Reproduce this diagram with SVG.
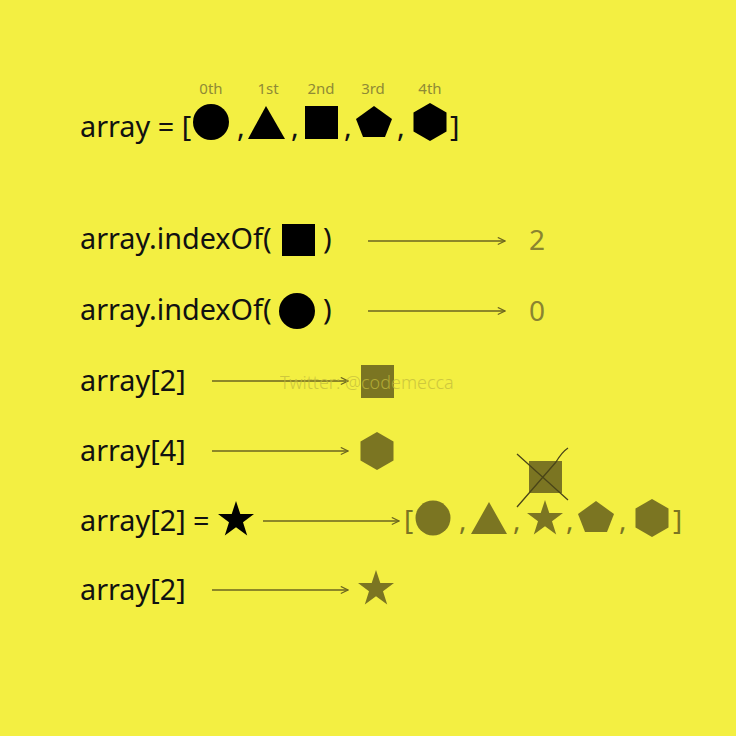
<svg xmlns="http://www.w3.org/2000/svg" width="736" height="736" viewBox="0 0 736 736">
<defs>
<style>
.t{font-family:"Noto Sans","Open Sans","DejaVu Sans",sans-serif;font-size:28.8px;fill:#111}
.lbl{font-family:"Noto Sans","Open Sans",sans-serif;font-size:15px;fill:#8f8a35;text-anchor:middle}
.res{font-family:"Noto Sans","Open Sans",sans-serif;font-size:28px;fill:#8a8430}
.k{fill:#000}
.o{fill:#7b7522}
.ot{font-family:"Noto Sans","Open Sans",sans-serif;font-size:28px;fill:#7b7522}
.arr{stroke:#6b6520;stroke-width:1.5;fill:none;marker-end:url(#ah)}
.wm{font-family:"Noto Sans","Open Sans",sans-serif;font-size:18px;font-weight:300;fill:#c2bb3c;opacity:0.75}
</style>
<marker id="ah" viewBox="0 0 10 10" refX="9" refY="5" markerWidth="9" markerHeight="9" markerUnits="userSpaceOnUse" orient="auto">
<path d="M1,1 L9,5 L1,9" fill="none" stroke="#6b6520" stroke-width="1.3"/>
</marker>
<polygon id="star" points="0,-19 4.3,-6 18,-6 7,2.3 11.2,15.4 0,7.3 -11.2,15.4 -7,2.3 -18,-6 -4.3,-6"/>
<polygon id="pent" points="0,-16 18,-3 11,15 -11,15 -18,-3"/>
<polygon id="hex" points="0,-19 16.5,-9.5 16.5,9.5 0,19 -16.5,9.5 -16.5,-9.5"/>
</defs>
<rect width="736" height="736" fill="#f3ef42"/>

<g id="labels">
<text class="lbl" x="211" y="94">0th</text>
<text class="lbl" x="268" y="94">1st</text>
<text class="lbl" x="321" y="94">2nd</text>
<text class="lbl" x="373" y="94">3rd</text>
<text class="lbl" x="430" y="94">4th</text>
</g>

<g id="array-def">
<text class="t" x="80" y="137">array = [</text>
<circle class="k" cx="211" cy="122" r="18"/>
<text class="t" x="237" y="137">,</text>
<polygon class="k" points="266,106 285,139 248,139"/>
<text class="t" x="291" y="137">,</text>
<rect class="k" x="305" y="106" width="33" height="33"/>
<text class="t" x="344" y="137">,</text>
<use href="#pent" class="k" x="374" y="122"/>
<text class="t" x="397" y="137">,</text>
<use href="#hex" class="k" x="430" y="122"/>
<text class="t" x="450" y="137">]</text>
</g>

<g id="indexOf-square">
<text class="t" x="80" y="249">array.indexOf(</text>
<rect class="k" x="282" y="224" width="33" height="32"/>
<text class="t" x="323" y="249">)</text>
</g>
<g id="result-2"><text class="res" x="529" y="250">2</text></g>

<g id="indexOf-circle">
<text class="t" x="80" y="320">array.indexOf(</text>
<circle class="k" cx="297" cy="311" r="18"/>
<text class="t" x="323" y="320">)</text>
</g>
<g id="result-0"><text class="res" x="529" y="321">0</text></g>

<g id="access-2">
<text class="t" x="80" y="391">array[2]</text>
</g>
<g id="result-square"><rect class="o" x="361" y="365" width="33" height="33"/></g>

<g id="access-4">
<text class="t" x="80" y="461">array[4]</text>
</g>
<g id="result-hex"><use href="#hex" class="o" x="377" y="451"/></g>

<g id="assign">
<text class="t" x="80" y="531">array[2] =</text>
<use href="#star" class="k" x="236" y="520"/>
</g>

<g id="result-array">
<text class="ot" x="404" y="530">[</text>
<circle class="o" cx="433" cy="518" r="17.5"/>
<text class="ot" x="459" y="530">,</text>
<polygon class="o" points="489,502 507,534 471,534"/>
<text class="ot" x="513" y="530">,</text>
<use href="#star" class="o" x="545" y="519"/>
<text class="ot" x="566" y="530">,</text>
<use href="#pent" class="o" x="596" y="517"/>
<text class="ot" x="619" y="530">,</text>
<use href="#hex" class="o" x="652" y="518"/>
<text class="ot" x="673" y="530">]</text>
</g>

<g id="replaced-square">
<rect class="o" x="529" y="461" width="33" height="32"/>
<path d="M517,454 L568,500 M568,448 Q562,452 556,462 L517,507" stroke="#4a4518" stroke-width="1.3" fill="none"/>
</g>

<g id="access-2b">
<text class="t" x="80" y="600">array[2]</text>
</g>
<g id="result-star"><use href="#star" class="o" x="376" y="589"/></g>

<g id="connectors">
<line class="arr" x1="368" y1="241" x2="505" y2="241"/>
<line class="arr" x1="368" y1="311" x2="505" y2="311"/>
<line class="arr" x1="212" y1="381" x2="348" y2="381"/>
<line class="arr" x1="212" y1="451" x2="348" y2="451"/>
<line class="arr" x1="263" y1="521" x2="399" y2="521"/>
<line class="arr" x1="212" y1="590" x2="348" y2="590"/>
</g>

<text class="wm" x="280" y="389">Twitter: @codemecca</text>
</svg>
